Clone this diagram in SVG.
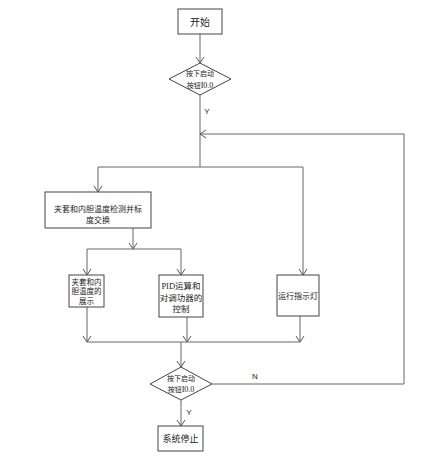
<svg xmlns="http://www.w3.org/2000/svg" width="422" height="459" viewBox="0 0 422 459">
<style>
.box{fill:#fff;stroke:#444;stroke-width:1}
.ln{fill:none;stroke:#666;stroke-width:1}
.t{font-family:"Liberation Sans","Noto Sans CJK SC",sans-serif;fill:#222;text-anchor:middle}
.s{font-family:"Liberation Serif","Noto Sans CJK SC",serif}
</style>
<defs>
<marker id="a" markerUnits="userSpaceOnUse" markerWidth="10" markerHeight="10" refX="6" refY="4" orient="auto" viewBox="0 0 10 8">
<path d="M0,0 L6,4 L0,8" fill="none" stroke="#555" stroke-width="1"/>
</marker>
</defs>
<rect width="422" height="459" fill="#fff"/>
<g id="connectors">
<path class="ln" d="M200,34 V63" marker-end="url(#a)"/>
<path class="ln" d="M200,95 V167"/>
<path class="ln" d="M98,167 H303"/>
<path class="ln" d="M98,167 V192" marker-end="url(#a)"/>
<path class="ln" d="M303,167 V275" marker-end="url(#a)"/>
<path class="ln" d="M133,228 V249" marker-end="url(#a)"/>
<path class="ln" d="M87,249 H181"/>
<path class="ln" d="M87,249 V275" marker-end="url(#a)"/>
<path class="ln" d="M181,249 V275" marker-end="url(#a)"/>
<path class="ln" d="M87,307 V342" marker-end="url(#a)"/>
<path class="ln" d="M187,317 V342" marker-end="url(#a)"/>
<path class="ln" d="M300,316 V342" marker-end="url(#a)"/>
<path class="ln" d="M87,342 H300"/>
<path class="ln" d="M181,342 V367" marker-end="url(#a)"/>
<path class="ln" d="M181,400 V426" marker-end="url(#a)"/>
<path class="ln" d="M212,384 H404 V134 H200" marker-end="url(#a)"/>
<text class="t" x="207" y="114" font-size="8">Y</text>
<text class="t" x="255" y="379" font-size="8">N</text>
<text class="t" x="189" y="415" font-size="8">Y</text>
</g>
<g id="start">
<rect class="box" x="178" y="9" width="44" height="25"/>
<text class="t" x="200" y="25.5" font-size="10">开始</text>
</g>
<g id="decision1">
<polygon class="box" points="200,63 231,79 200,95 169,79"/>
<text class="t" x="200" y="76" font-size="7">按下启动</text>
<text class="t" x="200" y="88" font-size="7">按钮<tspan class="s" font-size="8">I0.0</tspan></text>
</g>
<g id="detect">
<rect class="box" x="45" y="192" width="106" height="36"/>
<text class="t" x="98" y="212" font-size="8">夹套和内胆温度检测并标</text>
<text class="t" x="98" y="222.5" font-size="8">度交换</text>
</g>
<g id="display">
<rect class="box" x="69" y="275" width="35" height="32"/>
<text class="t" x="86.5" y="284.5" font-size="7.5">夹套和内</text>
<text class="t" x="86.5" y="294" font-size="7.5">胆温度的</text>
<text class="t" x="86.5" y="303.5" font-size="7.5">展示</text>
</g>
<g id="pid">
<rect class="box" x="159" y="275" width="44" height="42"/>
<text class="t" x="181" y="289" font-size="8.5"><tspan class="s">PID</tspan>运算和</text>
<text class="t" x="181" y="300.5" font-size="8.5">对调功器的</text>
<text class="t" x="181" y="312" font-size="8.5">控制</text>
</g>
<g id="run">
<rect class="box" x="277" y="275" width="42" height="41"/>
<text class="t" x="298" y="298.5" font-size="8">运行指示灯</text>
</g>
<g id="decision2">
<polygon class="box" points="181,367 212,384 181,400 150,384"/>
<text class="t" x="181" y="381" font-size="7">按下启动</text>
<text class="t" x="181" y="392" font-size="7">按钮<tspan class="s" font-size="8">I0.0</tspan></text>
</g>
<g id="stop">
<rect class="box" x="158" y="426" width="45" height="25"/>
<text class="t" x="180.5" y="441.5" font-size="9">系统停止</text>
</g>
</svg>
